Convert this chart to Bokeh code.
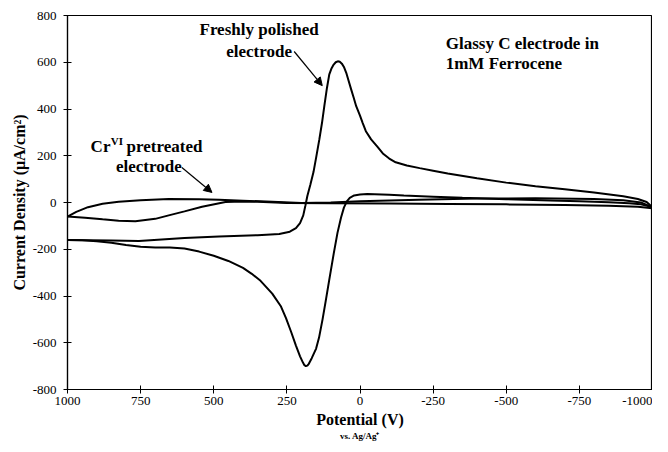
from bokeh.plotting import figure
from bokeh.models import Range1d, FixedTicker, Label, Arrow, NormalHead, LinearAxis
from bokeh.embed import file_html
from bokeh.resources import INLINE

# ---- data ----
# Freshly polished electrode: sweep from +1000 to -1000 (lower branch)
fresh_fwd_v = [1000, 950, 900, 850, 800, 750, 700, 650, 600, 550, 500, 450, 400, 370, 340,
               300, 270, 253, 235, 219, 205, 195, 190, 185, 180, 175, 165, 150, 140, 128, 117, 105,
               90, 77, 65, 55, 45, 35, 20, 0, -25, -50, -100, -150, -250, -350, -500,
               -650, -750, -850, -920, -960, -1000]
fresh_fwd_j = [-160, -162, -166, -172, -182, -189, -192, -193, -197, -210, -228, -250, -280, -305, -335,
               -390, -445, -495, -555, -612, -658, -685, -696, -700, -698, -690, -666, -625, -578, -500, -420, -330,
               -220, -130, -65, -22, 5, 20, 30, 34, 36, 35, 33, 30, 25, 20, 14,
               9, 5, 1, -3, -8, -20]
# Freshly polished electrode: return sweep from -1000 to +1000 (upper branch)
fresh_rev_v = [-1000, -980, -950, -900, -800, -700, -600, -500, -400, -300, -250, -204, -160,
               -122, -100, -78, -60, -38, -20, -9, 0, 13, 22, 30, 40, 47, 55, 62, 69, 76, 83,
               90, 98, 105, 113, 122, 130, 139, 150, 159, 170, 180, 187, 194, 205, 219, 240, 276, 350,
               482, 600, 756, 850, 1000]
fresh_rev_j = [-20, 2, 15, 27, 43, 57, 70, 85, 104, 124, 136, 147, 158,
               172, 188, 210, 238, 270, 305, 341, 372, 412, 450, 483, 525, 555, 580, 594, 602, 604, 600,
               590, 572, 548, 490, 412, 340, 270, 192, 130, 75, 28, -15, -55, -88, -110, -125, -135, -140,
               -145, -152, -165, -163, -160]
# Cr(VI) pretreated electrode
cr_fwd_v = [1000, 970, 930, 880, 825, 750, 654, 550, 482, 400, 300, 200, 100, 0, -200, -400,
            -600, -800, -900, -960, -1000]
cr_fwd_j = [-60, -40, -20, -5, 3, 10, 15, 14, 12, 8, 3, -2, 0, 5, 12, 17,
            18, 15, 10, 0, -20]
cr_rev_v = [-1000, -950, -850, -700, -500, -300, -100, 100, 250, 350, 400, 460, 540, 600, 654,
            700, 768, 825, 880, 940, 1000]
cr_rev_j = [-25, -18, -14, -11, -8, -6, -4, -3, -2, 3, 4, 2, -18, -38, -55,
            -70, -80, -78, -72, -65, -60]

x_ticks = [1000, 750, 500, 250, 0, -250, -500, -750, -1000]
x_tick_labels = ["1000", "750", "500", "250", "0", "-250", "-500", "-750", "-1000"]
y_ticks = [800, 600, 400, 200, 0, -200, -400, -600, -800]
y_tick_labels = ["800", "600", "400", "200", "0", "-200", "-400", "-600", "-800"]

SERIF = "Liberation Serif"

p = figure(width=652, height=448, output_backend="svg", toolbar_location=None,
           x_range=Range1d(1000, -1000), y_range=Range1d(-800, 800),
           min_border_left=67, min_border_right=0, min_border_top=15, min_border_bottom=59)
p.background_fill_color = "white"
p.border_fill_color = "white"
p.outline_line_color = "black"
p.outline_line_width = 1.2
p.grid.visible = False

for ax in (p.xaxis[0], p.yaxis[0]):
    ax.axis_line_color = "black"
    ax.axis_line_width = 1.2
    ax.major_tick_line_color = "black"
    ax.major_tick_in = 4
    ax.major_tick_out = 4
    ax.minor_tick_line_color = None
    ax.major_label_text_font = SERIF
    ax.major_label_text_font_size = "13px"
    ax.major_label_text_color = "black"
    ax.axis_label_text_font = SERIF
    ax.axis_label_text_font_style = "bold"
    ax.axis_label_text_font_size = "16px"
    ax.axis_label_text_color = "black"

p.xaxis[0].ticker = FixedTicker(ticks=x_ticks)
p.xaxis[0].major_label_overrides = dict(zip(x_ticks, x_tick_labels))
p.xaxis[0].major_label_standoff = 3
p.xaxis[0].axis_label = "Potential (V)"
p.xaxis[0].axis_label_standoff = 3

p.yaxis[0].ticker = FixedTicker(ticks=y_ticks)
p.yaxis[0].major_label_overrides = dict(zip(y_ticks, y_tick_labels))
p.yaxis[0].major_label_standoff = 7
p.yaxis[0].axis_label = "Current Density (\u03bcA/cm\u00b2)"
p.yaxis[0].axis_label_standoff = 2

# secondary caption axis for the reference electrode
sub = LinearAxis(ticker=FixedTicker(ticks=[]), axis_line_color=None,
                 major_tick_line_color=None, minor_tick_line_color=None,
                 major_tick_in=0, major_tick_out=0, major_label_text_font_size="0px",
                 axis_label="vs. Ag/Ag\u207a", axis_label_text_font=SERIF,
                 axis_label_text_font_style="bold", axis_label_text_font_size="9px",
                 axis_label_text_color="black", axis_label_standoff=0)
p.add_layout(sub, "below")

lw = 2
p.line(fresh_fwd_v, fresh_fwd_j, line_color="black", line_width=lw)
p.line(fresh_rev_v, fresh_rev_j, line_color="black", line_width=lw)
p.line(cr_fwd_v, cr_fwd_j, line_color="black", line_width=lw)
p.line(cr_rev_v, cr_rev_j, line_color="black", line_width=lw)

def lab(x, y, text, size="17px", align="left", style="bold"):
    p.add_layout(Label(x=x, y=y, text=text, text_font=SERIF, text_font_size=size,
                       text_font_style=style, text_align=align, text_baseline="middle",
                       text_color="black"))

lab(345, 740, "Freshly polished", align="center")
lab(345, 646, "electrode", align="center")
lab(-293, 680, "Glassy C electrode in")
lab(-293, 595, "1mM Ferrocene")
lab(921, 240, "Cr")
lab(852, 262, "VI", size="11px")
lab(798, 240, "pretreated")
lab(722, 154, "electrode", align="center")

p.add_layout(Arrow(x_start=225, y_start=646, x_end=129, y_end=500,
                   line_color="black", line_width=1.2,
                   end=NormalHead(size=8, fill_color="black", line_color="black")))
p.add_layout(Arrow(x_start=609, y_start=150, x_end=506, y_end=43,
                   line_color="black", line_width=1.2,
                   end=NormalHead(size=8, fill_color="black", line_color="black")))

open("out.html", "w").write(file_html(p, INLINE))
